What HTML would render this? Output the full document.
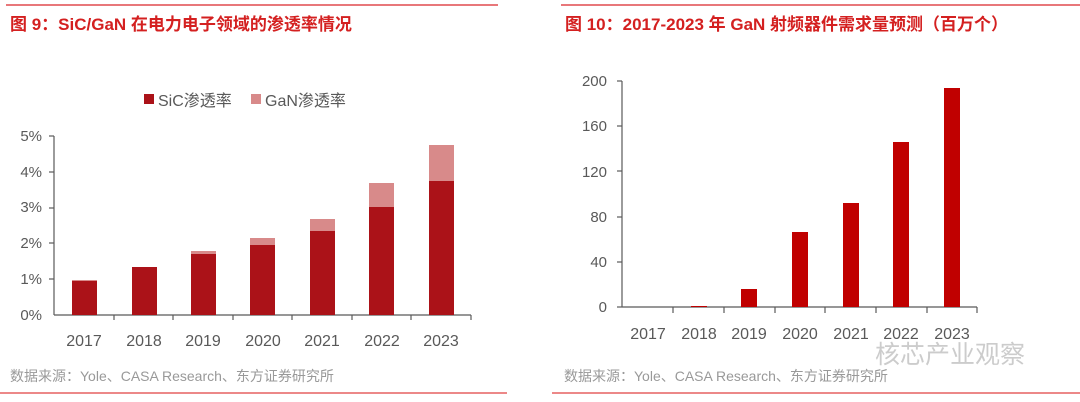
<!DOCTYPE html>
<html><head><meta charset="utf-8"><style>
body{margin:0;background:#fff;width:1080px;height:402px;overflow:hidden}
svg{display:block}
text{font-family:"Liberation Sans","Noto Sans CJK SC",sans-serif}
</style></head><body>
<svg width="1080" height="402" viewBox="0 0 1080 402">
<line x1="6" y1="5" x2="498" y2="5" stroke="#d9262a" stroke-width="1.2"/>
<line x1="561" y1="5" x2="1080" y2="5" stroke="#d9262a" stroke-width="1.2"/>
<line x1="0" y1="393" x2="507" y2="393" stroke="#e04040" stroke-width="1.2"/>
<line x1="552" y1="393" x2="1080" y2="393" stroke="#e04040" stroke-width="1.2"/>
<text x="10" y="30" font-size="17" font-weight="bold" fill="#d42020">图 9：SiC/GaN 在电力电子领域的渗透率情况</text>
<text x="565" y="30" font-size="17" font-weight="bold" fill="#d42020">图 10：2017-2023 年 GaN 射频器件需求量预测（百万个）</text>
<text x="10" y="381" font-size="14" fill="#999">数据来源：Yole、CASA Research、东方证券研究所</text>
<text x="564" y="381" font-size="14" fill="#999">数据来源：Yole、CASA Research、东方证券研究所</text>
<text x="875" y="363" font-size="25" fill="#ccc">核芯产业观察</text>
<!-- legend -->
<rect x="144" y="94" width="10" height="10" fill="#ab1218"/>
<text x="158" y="106" font-size="16" fill="#595959">SiC渗透率</text>
<rect x="251" y="94" width="10" height="10" fill="#d88a8a"/>
<text x="265" y="106" font-size="16" fill="#595959">GaN渗透率</text>
<!-- left axes -->
<g font-size="15" fill="#595959" text-anchor="end">
<text x="42" y="320">0%</text><text x="42" y="284">1%</text><text x="42" y="248">2%</text><text x="42" y="212">3%</text><text x="42" y="177">4%</text><text x="42" y="141">5%</text>
</g>
<g stroke="#595959" stroke-width="1.2">
<line x1="54" y1="136" x2="54" y2="315"/>
<line x1="54" y1="315" x2="471" y2="315"/>
<line x1="49" y1="136" x2="54" y2="136"/><line x1="49" y1="172" x2="54" y2="172"/><line x1="49" y1="208" x2="54" y2="208"/><line x1="49" y1="243" x2="54" y2="243"/><line x1="49" y1="279" x2="54" y2="279"/>
<line x1="114" y1="315" x2="114" y2="320"/><line x1="173" y1="315" x2="173" y2="320"/><line x1="233" y1="315" x2="233" y2="320"/><line x1="292" y1="315" x2="292" y2="320"/><line x1="352" y1="315" x2="352" y2="320"/><line x1="411" y1="315" x2="411" y2="320"/><line x1="471" y1="315" x2="471" y2="320"/>
</g>
<g fill="#d88a8a">
<rect x="72" y="280" width="25" height="2"/>
<rect x="191" y="251" width="25" height="4"/>
<rect x="250" y="238" width="25" height="7"/>
<rect x="310" y="219" width="25" height="12"/>
<rect x="369" y="183" width="25" height="24"/>
<rect x="429" y="145" width="25" height="36"/>
</g>
<g fill="#ab1218">
<rect x="72" y="281" width="25" height="34"/>
<rect x="132" y="267" width="25" height="48"/>
<rect x="191" y="254" width="25" height="61"/>
<rect x="250" y="245" width="25" height="70"/>
<rect x="310" y="231" width="25" height="84"/>
<rect x="369" y="207" width="25" height="108"/>
<rect x="429" y="181" width="25" height="134"/>
</g>
<g font-size="16" fill="#595959" text-anchor="middle">
<text x="84" y="346">2017</text><text x="144" y="346">2018</text><text x="203" y="346">2019</text><text x="263" y="346">2020</text><text x="322" y="346">2021</text><text x="382" y="346">2022</text><text x="441" y="346">2023</text>
</g>
<!-- right axes -->
<g font-size="15" fill="#595959" text-anchor="end">
<text x="607" y="312">0</text><text x="607" y="267">40</text><text x="607" y="222">80</text><text x="607" y="177">120</text><text x="607" y="131">160</text><text x="607" y="86">200</text>
</g>
<g stroke="#595959" stroke-width="1.2">
<line x1="622" y1="81" x2="622" y2="307"/>
<line x1="622" y1="307" x2="977" y2="307"/>
<line x1="617" y1="81" x2="622" y2="81"/><line x1="617" y1="126" x2="622" y2="126"/><line x1="617" y1="171" x2="622" y2="171"/><line x1="617" y1="217" x2="622" y2="217"/><line x1="617" y1="262" x2="622" y2="262"/><line x1="617" y1="307" x2="622" y2="307"/>
<line x1="673" y1="307" x2="673" y2="313"/><line x1="724" y1="307" x2="724" y2="313"/><line x1="775" y1="307" x2="775" y2="313"/><line x1="825" y1="307" x2="825" y2="313"/><line x1="876" y1="307" x2="876" y2="313"/><line x1="927" y1="307" x2="927" y2="313"/><line x1="977" y1="307" x2="977" y2="313"/>
</g>
<g fill="#c00000">
<rect x="691" y="306" width="16" height="1"/>
<rect x="741" y="289" width="16" height="18"/>
<rect x="792" y="232" width="16" height="75"/>
<rect x="843" y="203" width="16" height="104"/>
<rect x="893" y="142" width="16" height="165"/>
<rect x="944" y="88" width="16" height="219"/>
</g>
<g font-size="16" fill="#595959" text-anchor="middle">
<text x="648" y="339">2017</text><text x="699" y="339">2018</text><text x="749" y="339">2019</text><text x="800" y="339">2020</text><text x="851" y="339">2021</text><text x="901" y="339">2022</text><text x="952" y="339">2023</text>
</g>
</svg>
</body></html>
